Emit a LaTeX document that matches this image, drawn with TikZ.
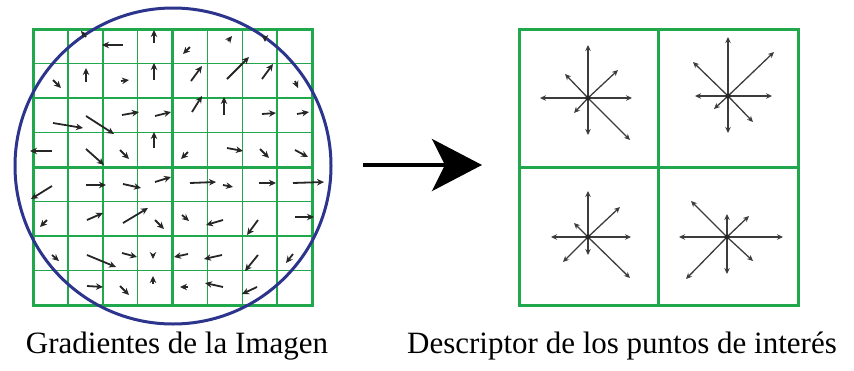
\documentclass[tikz,border=0pt]{standalone}
\usepackage{fontspec}
\setmainfont{Liberation Serif}
\usetikzlibrary{arrows.meta,positioning,calc}
\definecolor{gridgreen}{RGB}{34,168,76}
\definecolor{ringblue}{RGB}{44,52,140}
\definecolor{vecgray}{RGB}{38,38,38}

\begin{document}
\begin{tikzpicture}[x=1pt, y=-1pt, >={Stealth},
  cellline/.style={gridgreen, line width=1.5pt},
  frameline/.style={gridgreen, line width=3pt},
  grad/.style={-{Stealth[length=7pt,width=6.5pt]}, vecgray, line width=1.8pt},
  binarrow/.style={-{Stealth[length=6pt,width=5.5pt]}, vecgray!90!white, line width=1.3pt},
  caption/.style={font=\fontsize{31}{33}\selectfont, anchor=base}]
  \useasboundingbox (0,0) rectangle (854,370);

  % image patch: 8x8 cells
  \foreach \i in {1,2,3,5,6,7} {
    \draw[cellline] ({33+\i*34.875},29) -- ({33+\i*34.875},305);
    \draw[cellline] (33,{29+\i*34.5}) -- (312,{29+\i*34.5});
  }
  \draw[frameline] (33,29) rectangle (312,305);
  \draw[frameline] (172.5,29) -- (172.5,305) (33,167) -- (312,167);
  % gaussian window
  \draw[ringblue, line width=3pt] (173,166) circle [radius=158pt];

  % gradients, tail/tip
  \foreach \xa/\ya/\xb/\yb in {
      86/37/81/31, 123/45/102/45, 154/43/154/30, 190/47/183/54, 228/41/232/36, 265/36/265/42,
      53/80/61/88, 86/82/86/68, 121/81/129/80, 154/80/154/63, 191/81/202/66, 227/79/249/57, 262/79/273/64, 295/81/298/88,
      122/115/139/112, 155/116/171/112, 192/112/202/96, 224/115/224/97, 262/114/276/113, 297/114/309/112,
      53/123/83/128, 86/116/114/134,
      154/148/154/132, 52/151/30/151, 86/149/104/165, 120/150/129/159, 188/152/181/159, 227/148/243/151, 260/149/269/158, 295/150/308/157,
      52/186/31/199, 86/185/106/185, 123/184/141/188, 155/182/171/177, 190/183/216/182, 223/185/233/187, 259/183/276/183, 293/183/324/182,
      47/220/40/227, 87/220/103/213, 123/223/148/208, 155/220/164/229, 182/215/189/221, 223/220/206/225, 258/220/247/235, 295/217/314/217,
      52/255/59/261, 87/255/116/267, 122/253/137/257, 153/254/153/259, 188/254/174/257, 222/255/204/259, 258/255/245/271, 293/254/286/263,
      87/286/103/287, 120/286/129/295, 153/284/153/276, 188/287/180/287, 223/287/205/283, 257/287/242/294}
    \draw[grad] (\xa,\ya) -- (\xb,\yb);

  % arrow between the two panels
  \coordinate (arrowstart) at (363,165);
  \coordinate (arrowend) at (482,165);
  \draw[line width=4pt, -{Stealth[length=50pt,width=52pt,inset=13pt]}] (arrowstart) -- (arrowend);

  % descriptor: 2x2 cells
  \draw[frameline] (519,29) rectangle (798,305);
  \draw[frameline] (658.5,29) -- (658.5,305) (519,167) -- (798,167);

  % orientation histograms
  \coordinate (tl) at (588,98);
  \coordinate (tr) at (728,96);
  \coordinate (bl) at (588,237);
  \coordinate (br) at (727,237);
  \foreach \dx/\dy in {0/-53, 0/37, -48/0, 44/0, 30/-28, -23/-24, -14/15, 42/42}
    \draw[binarrow] (tl) -- ++(\dx,\dy);
  \foreach \dx/\dy in {0/-59, 0/37, -33/0, 44/0, 46/-44, -35/-34, -14/13, 25/26}
    \draw[binarrow] (tr) -- ++(\dx,\dy);
  \foreach \dx/\dy in {0/-46, 0/18, -37/0, 43/0, 32/-30, -14/-14, -25/25, 42/41}
    \draw[binarrow] (bl) -- ++(\dx,\dy);
  \foreach \dx/\dy in {0/-23, 0/37, -48/0, 56/0, 22/-21, -36/-36, -41/42, 26/24}
    \draw[binarrow] (br) -- ++(\dx,\dy);
  \foreach \c in {tl,tr,bl,br}
    \fill[vecgray] (\c) circle [radius=2.5pt];

  % captions
  \node[caption] (gradlabel) at (177,353) {Gradientes de la Imagen};
  \node[caption] (desclabel) at (622,353) {Descriptor de los puntos de interés};
\end{tikzpicture}
\end{document}
